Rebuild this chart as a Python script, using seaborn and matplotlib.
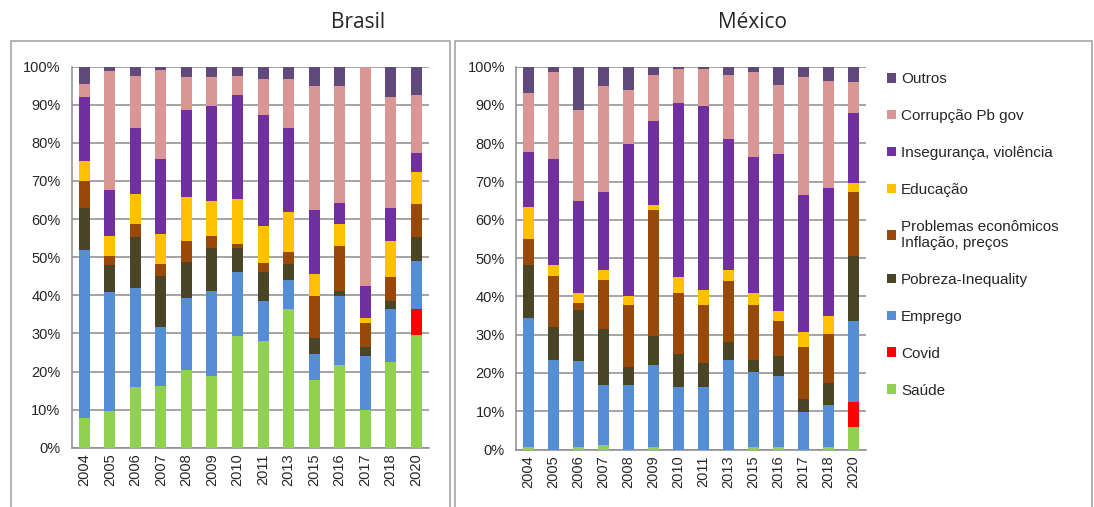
import numpy as np
import pandas as pd
import matplotlib
matplotlib.use("Agg")
import matplotlib.pyplot as plt
import seaborn as sns
from matplotlib.patches import Patch, Rectangle
from matplotlib.ticker import PercentFormatter

years = ["2004", "2005", "2006", "2007", "2008", "2009", "2010",
         "2011", "2013", "2015", "2016", "2017", "2018", "2020"]

categories = ["Saúde", "Covid", "Emprego", "Pobreza-Inequality",
              "Problemas econômicos\nInflação, preços", "Educação",
              "Insegurança, violência", "Corrupção Pb gov", "Outros"]

colors = ["#92D050", "#FF0000", "#558ED5", "#4A4526", "#984807",
          "#FFC000", "#7030A0", "#D99694", "#604A7B"]

# Brasil (% of respondents)
br_saude = [7.7, 9.6, 15.9, 16.3, 20.3, 18.8, 29.2, 27.9, 36.5, 17.8, 21.6, 10.0, 22.6, 29.7]
br_covid = [0, 0, 0, 0, 0, 0, 0, 0, 0, 0, 0, 0, 0, 6.8]
br_emprego = [44.1, 31.3, 25.9, 15.4, 19.1, 22.4, 16.8, 10.5, 7.6, 6.7, 18.2, 14.0, 13.9, 12.4]
br_pobreza = [11.0, 7.0, 13.4, 13.4, 9.4, 11.1, 6.3, 7.6, 4.0, 4.4, 1.4, 2.4, 1.9, 6.3]
br_problemas = [7.2, 2.4, 3.4, 3.0, 5.4, 3.3, 1.1, 2.5, 3.3, 10.9, 11.7, 6.2, 6.3, 8.7]
br_educacao = [5.3, 5.3, 8.1, 8.1, 11.5, 9.1, 11.8, 9.7, 10.5, 5.7, 5.7, 1.5, 9.5, 8.5]
br_inseguranca = [16.7, 12.0, 17.2, 19.6, 23.0, 25.0, 27.4, 29.1, 22.1, 16.9, 5.7, 8.3, 8.6, 4.9]
br_corrupcao = [3.5, 31.2, 13.6, 23.4, 8.6, 7.6, 4.9, 9.5, 12.8, 32.6, 30.7, 57.6, 29.2, 15.3]
br_outros = [4.5, 1.2, 2.5, 0.8, 2.7, 2.7, 2.5, 3.2, 3.2, 5.0, 5.0, 0.0, 8.0, 7.4]

# México
mx_saude = [0.7, 0, 0.7, 1.2, 0, 0.7, 0, 0, 0, 0.7, 0.7, 0, 0.7, 5.8]
mx_covid = [0, 0, 0, 0, 0, 0, 0, 0, 0, 0, 0, 0, 0, 6.7]
mx_emprego = [33.7, 23.5, 22.4, 15.6, 16.8, 21.4, 16.4, 16.4, 23.5, 19.5, 18.6, 9.7, 10.9, 21.1]
mx_pobreza = [13.8, 8.6, 13.3, 14.8, 4.8, 7.5, 8.5, 6.1, 4.7, 3.3, 5.1, 3.4, 5.7, 17.0]
mx_problemas = [6.7, 13.3, 1.8, 12.8, 16.1, 32.9, 16.1, 15.2, 15.8, 14.2, 9.1, 13.7, 12.8, 16.7]
mx_educacao = [8.5, 2.8, 2.8, 2.5, 2.5, 1.5, 4.0, 3.9, 2.9, 3.3, 2.8, 3.9, 4.8, 2.4]
mx_inseguranca = [14.4, 27.6, 23.9, 20.4, 39.5, 21.9, 45.6, 48.1, 34.2, 35.3, 41.0, 35.7, 33.3, 18.1]
mx_corrupcao = [15.2, 22.8, 23.7, 27.6, 14.3, 11.9, 8.7, 9.6, 16.7, 22.3, 18.0, 30.9, 28.1, 8.1]
mx_outros = [7.0, 1.4, 11.4, 5.1, 6.0, 2.2, 0.7, 0.7, 2.2, 1.4, 4.7, 2.7, 3.7, 4.1]

brasil = pd.DataFrame(dict(zip(categories, [br_saude, br_covid, br_emprego, br_pobreza, br_problemas,
                                            br_educacao, br_inseguranca, br_corrupcao, br_outros])), index=years)
mexico = pd.DataFrame(dict(zip(categories, [mx_saude, mx_covid, mx_emprego, mx_pobreza, mx_problemas,
                                            mx_educacao, mx_inseguranca, mx_corrupcao, mx_outros])), index=years)

sns.set_style("white")
plt.rcParams['font.family'] = ['Liberation Sans', 'DejaVu Sans']

W, H = 1094, 507
fig = plt.figure(figsize=(W / 100, H / 100), dpi=100)

grid_col = "#8c8c8c"


def draw_panel(ax, data, width):
    cum = data[categories].cumsum(axis=1)
    cum = cum.div(cum[categories[-1]], axis=0) * 100
    # draw tallest first so each lower segment covers the one below it
    for cat, col in zip(reversed(categories), reversed(colors)):
        sns.barplot(x=years, y=cum[cat].values, order=years, color=col, width=width,
                    saturation=1, errorbar=None, linewidth=0, ax=ax, zorder=3)
    ax.set_xlim(-0.5, len(years) - 0.5)
    ax.set_ylim(0, 100)
    ax.set_yticks(np.arange(0, 101, 10))
    ax.yaxis.set_major_formatter(PercentFormatter(decimals=0))
    ax.grid(axis="y", color=grid_col, linewidth=1.1, zorder=0)
    ax.set_axisbelow(True)
    ax.set_xlabel("")
    ax.set_ylabel("")
    ax.set_xticks(np.arange(-0.5, len(years)), minor=True)
    ax.tick_params(axis="x", which="major", length=0, labelrotation=90, labelsize=10.5, pad=4)
    ax.tick_params(axis="x", which="minor", length=5, color=grid_col, width=1.1, direction="out")
    ax.tick_params(axis="y", length=5, color=grid_col, width=1.1, labelsize=10.5, pad=3, direction="out")
    for s in ["top", "right"]:
        ax.spines[s].set_visible(False)
    for s in ["left", "bottom"]:
        ax.spines[s].set_color(grid_col)
        ax.spines[s].set_linewidth(1.1)


ax1 = fig.add_axes([71.5 / W, 1 - 447.7 / H, (429 - 71.5) / W, (447.7 - 66.7) / H])
draw_panel(ax1, brasil, 0.43)
ax2 = fig.add_axes([516 / W, 1 - 449.5 / H, (865.7 - 516) / W, (449.5 - 66.7) / H])
draw_panel(ax2, mexico, 0.44)

# chart frames
for x0, x1 in [(11, 450), (455, 1092)]:
    fig.patches.append(Rectangle((x0 / W, -0.02), (x1 - x0) / W, 1.02 - 41 / H,
                                 transform=fig.transFigure, fill=False,
                                 edgecolor="#a6a6a6", linewidth=1.2))

fig.text(358 / W, 1 - 22 / H, "Brasil", ha="center", va="center", fontsize=15, family="Open Sans")
fig.text(753 / W, 1 - 22 / H, "México", ha="center", va="center", fontsize=15, family="Open Sans")

handles = [Patch(facecolor=c, edgecolor="none", label=l)
           for c, l in zip(reversed(colors), reversed(categories))]
fig.legend(handles=handles, loc="upper left", bbox_to_anchor=(881 / W, 1 - 66 / H),
           frameon=False, fontsize=11, handlelength=0.6, handleheight=0.6,
           handletextpad=0.3, labelspacing=1.5, borderaxespad=0)

fig.savefig("out.png", dpi=100)
